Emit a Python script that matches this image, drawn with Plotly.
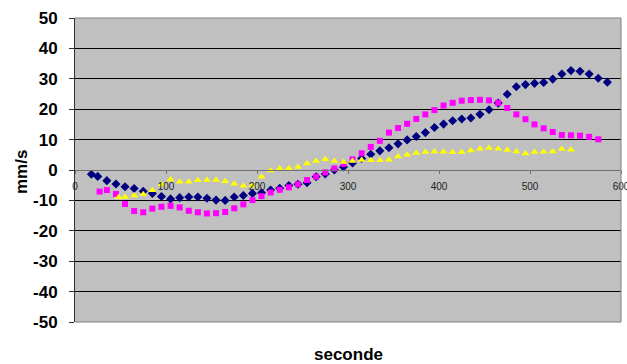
import plotly.graph_objects as go

# ---- data ----
navy_x = [18, 25, 35, 45, 55, 65, 75, 85, 95, 105, 115, 125, 135, 145, 155, 165, 175, 185, 195,
          205, 215, 225, 235, 245, 255, 265, 275, 285, 295, 305, 315, 325, 335, 345, 355, 365,
          375, 385, 395, 405, 415, 425, 435, 445, 455, 465, 475, 485, 495, 505, 515, 525, 535,
          545, 555, 565, 575, 585]
navy_y = [-1.4, -2.1, -3.5, -4.6, -5.5, -6.1, -7.0, -7.7, -8.7, -9.5, -9.1, -8.9, -8.9, -9.3, -9.9,
          -10.0, -8.9, -8.4, -7.7, -7.5, -6.6, -6.0, -5.1, -4.7, -4.2, -2.2, -1.3, 0.0, 1.0, 2.3,
          3.8, 5.2, 6.3, 7.3, 8.6, 9.9, 11.0, 12.3, 14.0, 15.1, 16.2, 16.8, 17.1, 18.3, 19.8, 22.0,
          24.9, 27.4, 28.1, 28.5, 28.8, 29.9, 31.6, 32.7, 32.5, 31.6, 30.2, 28.9]

magenta_x = [27, 35, 45, 55, 65, 75, 85, 95, 105, 115, 125, 135, 145, 155, 165, 175, 185, 195,
             205, 215, 225, 235, 245, 255, 265, 275, 285, 295, 305, 315, 325, 335, 345, 355, 365,
             375, 385, 395, 405, 415, 425, 435, 445, 455, 465, 475, 485, 495, 505, 515, 525, 535,
             545, 555, 565, 575]
magenta_y = [-7.1, -6.6, -7.9, -11.2, -13.5, -13.9, -12.7, -12.1, -11.8, -12.3, -13.4, -13.9, -14.3,
             -14.2, -13.8, -12.6, -11.3, -9.9, -8.6, -7.4, -6.5, -5.7, -4.7, -3.3, -2.2, -0.8, 0.5,
             2.0, 3.5, 5.5, 7.6, 9.6, 12.3, 13.8, 15.2, 16.8, 18.3, 19.7, 21.2, 22.1, 22.8, 23.0,
             23.1, 22.9, 22.1, 20.4, 18.3, 16.7, 15.0, 13.7, 12.5, 11.5, 11.4, 11.3, 10.9, 10.1]

yellow_x = [48, 55, 65, 75, 85, 95, 105, 115, 125, 135, 145, 155, 165, 175, 185, 195, 205, 215,
            225, 235, 245, 255, 265, 275, 285, 295, 305, 315, 325, 335, 345, 355, 365, 375, 385,
            395, 405, 415, 425, 435, 445, 455, 465, 475, 485, 495, 505, 515, 525, 535, 545]
yellow_y = [-9.0, -8.9, -8.4, -8.0, -6.7, -4.8, -3.1, -3.9, -3.9, -3.4, -3.3, -3.3, -3.7, -4.5, -5.2,
            -5.1, -2.2, -0.2, 0.5, 0.6, 1.0, 2.1, 3.0, 3.5, 3.0, 2.6, 3.0, 3.3, 3.2, 3.2, 3.4, 4.4,
            5.0, 5.6, 5.9, 6.1, 6.0, 5.8, 5.9, 6.4, 7.0, 7.2, 7.0, 6.6, 6.1, 5.4, 5.9, 6.0, 6.1,
            6.9, 6.7]

x_ticks = [0, 100, 200, 300, 400, 500, 600]
y_ticks = [50, 40, 30, 20, 10, 0, -10, -20, -30, -40, -50]
x_title = "seconde"
y_title = "mm/s"

FONT = "Liberation Sans, Arial, sans-serif"

fig = go.Figure()
fig.add_trace(go.Scatter(x=navy_x, y=navy_y, mode="markers",
                         marker=dict(symbol="diamond", size=7, color="#000080",
                                     line=dict(width=0))))
fig.add_trace(go.Scatter(x=magenta_x, y=magenta_y, mode="markers",
                         marker=dict(symbol="square", size=6, color="#FF00FF",
                                     line=dict(width=0))))
fig.add_trace(go.Scatter(x=yellow_x, y=yellow_y, mode="markers",
                         marker=dict(symbol="triangle-up", size=7, color="#FFFF00",
                                     line=dict(width=0))))

fig.update_layout(
    width=627, height=364,
    margin=dict(l=75, r=6, t=18, b=42, pad=0, autoexpand=False),
    paper_bgcolor="white",
    plot_bgcolor="#C0C0C0",
    showlegend=False,
    xaxis=dict(
        range=[0, 600], tickvals=x_ticks, ticktext=[str(v) for v in x_ticks],
        anchor="free", position=0.5, automargin=False,
        showgrid=False, zeroline=False,
        showline=True, linecolor="#707070", linewidth=1,
        ticks="outside", ticklen=3, tickcolor="#707070",
        tickfont=dict(family=FONT, size=10, color="#222222"),
        ticklabelstandoff=4,
        ticklabeloverflow="allow",
    ),
    yaxis=dict(
        range=[-50, 50], tickvals=y_ticks, ticktext=[str(v) for v in y_ticks],
        automargin=False,
        showgrid=True, gridcolor="#000000", gridwidth=1,
        zeroline=False,
        showline=True, linecolor="#303030", linewidth=1,
        ticks="outside", ticklen=5, tickcolor="#303030",
        tickfont=dict(family=FONT, size=17, color="black", weight="bold"),
        ticklabelstandoff=8,
    ),
    annotations=[
        dict(text=x_title, xref="paper", yref="paper", x=0.5, y=-0.108,
             xanchor="center", yanchor="middle", showarrow=False,
             font=dict(family=FONT, size=17, color="black", weight="bold")),
        dict(text=y_title, xref="paper", yref="paper", x=-0.099, y=0.493,
             xanchor="center", yanchor="middle", showarrow=False, textangle=-90,
             font=dict(family=FONT, size=17, color="black", weight="bold")),
    ],
    shapes=[
        dict(type="line", xref="paper", yref="paper", x0=0, x1=1, y0=1, y1=1,
             line=dict(color="#808080", width=1), layer="above"),
        dict(type="line", xref="paper", yref="paper", x0=1, x1=1, y0=0, y1=1,
             line=dict(color="#808080", width=1), layer="above"),
        dict(type="line", xref="paper", yref="paper", x0=0, x1=1, y0=0, y1=0,
             line=dict(color="#808080", width=1), layer="above"),
    ],
)

fig.write_html("out.html")
